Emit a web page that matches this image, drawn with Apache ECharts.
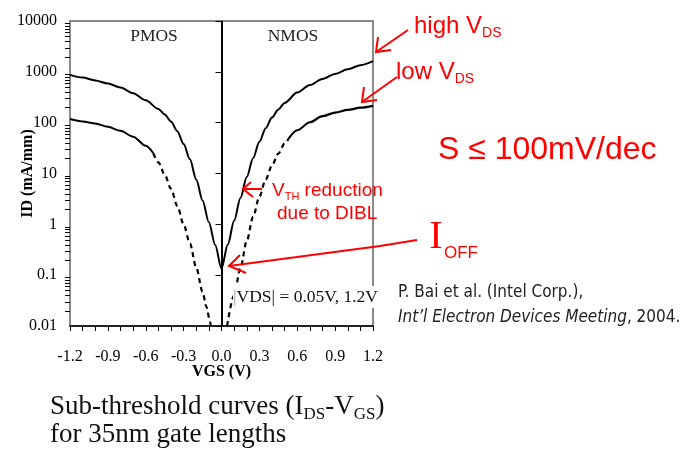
<!DOCTYPE html>
<html>
<head>
<meta charset="utf-8">
<script src="https://cdn.jsdelivr.net/npm/echarts@6/dist/echarts.min.js"></script>
<style>
html,body{margin:0;padding:0;background:#fff;}
#c{width:684px;height:452px;}
</style>
</head>
<body>
<div id="c"></div>
<script>
// ---- data (VGS in V, ID in mA/mm) ----
const xTickLabels = ['-1.2','-0.9','-0.6','-0.3','0.0','0.3','0.6','0.9','1.2'];
const yTickLabels = ['0.01','0.1','1','10','100','1000','10000'];

// |VDS| = 1.2 V (high VDS), PMOS (VGS<0) and NMOS (VGS>0)
const highVgs = [-1.2,-1.1,-1.0,-0.9,-0.8,-0.7,-0.6,-0.5,-0.45,-0.4,-0.35,-0.3,-0.25,-0.2,-0.15,-0.1,-0.05,0.0,
                 0.05,0.1,0.15,0.2,0.25,0.3,0.35,0.4,0.45,0.5,0.6,0.7,0.8,0.9,1.0,1.1,1.2];
const highId  = [870,770,676,590,490,380,275,186,145,105,68,38,19,7.6,2.95,1.1,0.39,0.135,
                 0.4,1.17,3.3,8.5,20,42,78,126,182,245,390,550,725,910,1120,1350,1620];

// |VDS| = 0.05 V (low VDS) PMOS, solid part
const lowPSolidVgs = [-1.2,-1.1,-1.0,-0.9,-0.8,-0.7,-0.6,-0.54];
const lowPSolidId  = [118,106,96,83,69,53,35,25];
// low VDS PMOS, dashed part
const lowPDashVgs = [-0.54,-0.5,-0.45,-0.4,-0.35,-0.3,-0.25,-0.2,-0.15,-0.12,-0.09,-0.085];
const lowPDashId  = [25,16.6,9.5,5.0,2.3,1.0,0.42,0.14,0.047,0.024,0.012,0.01];
// low VDS NMOS, dashed part
const lowNDashVgs = [0.044,0.1,0.15,0.2,0.25,0.3,0.35,0.4,0.45,0.5,0.53];
const lowNDashId  = [0.01,0.04,0.14,0.47,1.4,3.5,7.6,14.5,24.5,39,48];
// low VDS NMOS, solid part
const lowNSolidVgs = [0.53,0.6,0.7,0.8,0.9,1.0,1.1,1.2];
const lowNSolidId  = [48,71,102,134,158,178,197,214];

// minor log ticks for the ID axis
const minorYTicks = [];
[0.01,0.1,1,10,100,1000].forEach(d => { for (let k = 2; k <= 9; k++) minorYTicks.push(+(d*k).toPrecision(3)); });

const zip = (a, b) => a.map((v, i) => [v, b[i]]);

const SERIF = '"Liberation Serif", "DejaVu Serif", serif';
const HAND = '"Liberation Sans", "DejaVu Sans", sans-serif';
const NARROW = '"Liberation Sans Narrow", "DejaVu Sans Condensed", "DejaVu Sans", sans-serif';
const RED = '#ff0000';

const chart = echarts.init(document.getElementById('c'));
const lineBase = {type:'line', showSymbol:false, smooth:0.3, smoothMonotone:'x', silent:true, animation:false};

chart.setOption({
  animation:false,
  grid:{left:70, right:311, top:21, bottom:126, show:true, borderColor:'#8a8a8a', borderWidth:2, containLabel:false},
  xAxis:{
    type:'value', min:-1.2, max:1.2, interval:0.3,
    axisLine:{onZero:false, lineStyle:{color:'#000', width:1.6}},
    axisTick:{show:true, length:5, lineStyle:{color:'#000', width:1}},
    minorTick:{show:true, splitNumber:3, length:5, lineStyle:{color:'#000', width:1}},
    splitLine:{show:false}, minorSplitLine:{show:false},
    axisLabel:{
      margin:23, color:'#000', fontFamily:SERIF, fontSize:16,
      formatter:(v) => { const i = Math.round((v + 1.2) / 0.3); return xTickLabels[i] !== undefined ? xTickLabels[i] : ''; }
    },
    name:'VGS (V)', nameLocation:'middle', nameGap:38, nameMoveOverlap:false,
    nameTextStyle:{fontFamily:SERIF, fontWeight:'bold', fontSize:16, color:'#000'}
  },
  yAxis:{
    type:'log', logBase:10, min:0.01, max:10000,
    axisLine:{show:true, lineStyle:{color:'#666', width:1.6}},
    axisTick:{show:true, length:6, lineStyle:{color:'#000', width:1}},
    splitLine:{show:false},
    axisLabel:{
      margin:13, color:'#000', fontFamily:SERIF, fontSize:16,
      formatter:(v) => { const i = Math.round(Math.log10(v)) + 2; return yTickLabels[i] !== undefined ? yTickLabels[i] : ''; }
    },
    name:'ID (mA/mm)', nameLocation:'middle', nameGap:34, nameRotate:90, nameMoveOverlap:false,
    nameTextStyle:{fontFamily:SERIF, fontWeight:'bold', fontSize:16, color:'#000'}
  },
  series:[
    Object.assign({}, lineBase, {
      name:'high VDS', data:zip(highVgs, highId),
      lineStyle:{color:'#000', width:2},
      markLine:{silent:true, symbol:'none', label:{show:false}, animation:false,
        lineStyle:{color:'#000', width:2, type:'solid'}, data:[{xAxis:0}]}
    }),
    Object.assign({}, lineBase, {name:'low VDS P', data:zip(lowPSolidVgs, lowPSolidId), lineStyle:{color:'#000', width:2}}),
    Object.assign({}, lineBase, {name:'low VDS P dash', data:zip(lowPDashVgs, lowPDashId), lineStyle:{color:'#000', width:2.2, type:[5,4]}}),
    Object.assign({}, lineBase, {name:'low VDS N dash', data:zip(lowNDashVgs, lowNDashId), lineStyle:{color:'#000', width:2.2, type:[5,4]}}),
    Object.assign({}, lineBase, {name:'low VDS N', data:zip(lowNSolidVgs, lowNSolidId), lineStyle:{color:'#000', width:2.2}}),
    {
      type:'custom', name:'minor ticks', silent:true, clip:false, animation:false,
      data:minorYTicks.map(v => [-1.2, v]),
      renderItem:(params, api) => {
        const p = api.coord([api.value(0), api.value(1)]);
        const y = Math.round(p[1]) + 0.5;
        return {type:'line', shape:{x1:p[0] - 5, y1:y, x2:p[0], y2:y}, style:{stroke:'#000', lineWidth:1}};
      }
    }
  ],
  graphic:[
    {type:'text', x:154, y:36, z:10, style:{text:'PMOS', font:'17.5px ' + SERIF, fill:'#222', align:'center', verticalAlign:'middle'}},
    {type:'text', x:293, y:36, z:10, style:{text:'NMOS', font:'17.5px ' + SERIF, fill:'#222', align:'center', verticalAlign:'middle'}},
    {type:'text', x:233, y:297, z:10, style:{
      text:'{g||}VDS| = 0.05V, 1.2V', font:'17.5px ' + SERIF, fill:'#111', align:'left', verticalAlign:'middle',
      backgroundColor:'#fff', padding:[2,0,2,0],
      rich:{g:{fill:'#999', font:'17.5px ' + SERIF}}
    }},
    // citation
    {type:'text', x:398, y:293, z:10, style:{text:'P. Bai et al. (Intel Corp.),', font:'17px ' + NARROW, fill:'#222', align:'left', verticalAlign:'middle'}},
    {type:'text', x:398, y:318, z:10, style:{
      text:'{i|Int\u2019l Electron Devices Meeting}, 2004.', font:'17px ' + NARROW, fill:'#222', align:'left', verticalAlign:'middle',
      rich:{i:{font:'italic 17px ' + NARROW, fill:'#222'}}
    }},
    // caption
    {type:'text', x:50, y:407, z:10, style:{
      text:'Sub-threshold curves (I{s|DS}-V{s|GS})', font:'27px ' + SERIF, fill:'#111', align:'left', verticalAlign:'middle', lineHeight:32,
      rich:{s:{font:'17px ' + SERIF, fill:'#111', verticalAlign:'bottom', lineHeight:15}}
    }},
    {type:'text', x:50, y:435, z:10, style:{text:'for 35nm gate lengths', font:'27px ' + SERIF, fill:'#111', align:'left', verticalAlign:'middle'}},
    // red handwritten annotations
    {type:'text', x:414, y:26, z:10, style:{text:'high V{s|DS}', font:'24px ' + HAND, fill:RED, align:'left', verticalAlign:'middle', lineHeight:28,
      rich:{s:{font:'14px ' + HAND, fill:RED, verticalAlign:'bottom', lineHeight:12}}}},
    {type:'text', x:396, y:72, z:10, style:{text:'low V{s|DS}', font:'24px ' + HAND, fill:RED, align:'left', verticalAlign:'middle', lineHeight:28,
      rich:{s:{font:'14px ' + HAND, fill:RED, verticalAlign:'bottom', lineHeight:12}}}},
    {type:'text', x:438, y:150, z:10, style:{text:'S \u2264 100mV/dec', font:'32px ' + HAND, fill:RED, align:'left', verticalAlign:'middle'}},
    {type:'text', x:272, y:191, z:10, style:{text:'V{s|TH} reduction', font:'19px ' + HAND, fill:RED, align:'left', verticalAlign:'middle', lineHeight:22,
      rich:{s:{font:'11px ' + HAND, fill:RED, verticalAlign:'bottom', lineHeight:10}}}},
    {type:'text', x:277, y:214, z:10, style:{text:'due to DIBL', font:'19px ' + HAND, fill:RED, align:'left', verticalAlign:'middle'}},
    {type:'text', x:436, y:237, z:10, style:{text:'I', font:'40px ' + SERIF, fill:RED, align:'center', verticalAlign:'middle'}},
    {type:'text', x:444, y:253, z:10, style:{text:'OFF', font:'17px ' + HAND, fill:RED, align:'left', verticalAlign:'middle'}},
    // arrows
    {type:'polyline', z:10, shape:{points:[[408,30],[376,52]]}, style:{stroke:RED, lineWidth:2, fill:null}},
    {type:'polyline', z:10, shape:{points:[[378,37],[376,52],[391,50]]}, style:{stroke:RED, lineWidth:2, fill:null}},
    {type:'polyline', z:10, shape:{points:[[397,77],[362,102]]}, style:{stroke:RED, lineWidth:2, fill:null}},
    {type:'polyline', z:10, shape:{points:[[364,87],[362,102],[377,100]]}, style:{stroke:RED, lineWidth:2, fill:null}},
    {type:'polyline', z:10, shape:{points:[[262,189],[243,189]]}, style:{stroke:RED, lineWidth:2, fill:null}},
    {type:'polyline', z:10, shape:{points:[[251,182],[243,189],[253,197]]}, style:{stroke:RED, lineWidth:2, fill:null}},
    {type:'polyline', z:10, shape:{points:[[417,240],[380,246],[229,266]]}, style:{stroke:RED, lineWidth:2, fill:null}},
    {type:'polyline', z:10, shape:{points:[[240,255],[229,266],[246,273]]}, style:{stroke:RED, lineWidth:2, fill:null}}
  ]
});
</script>
</body>
</html>
